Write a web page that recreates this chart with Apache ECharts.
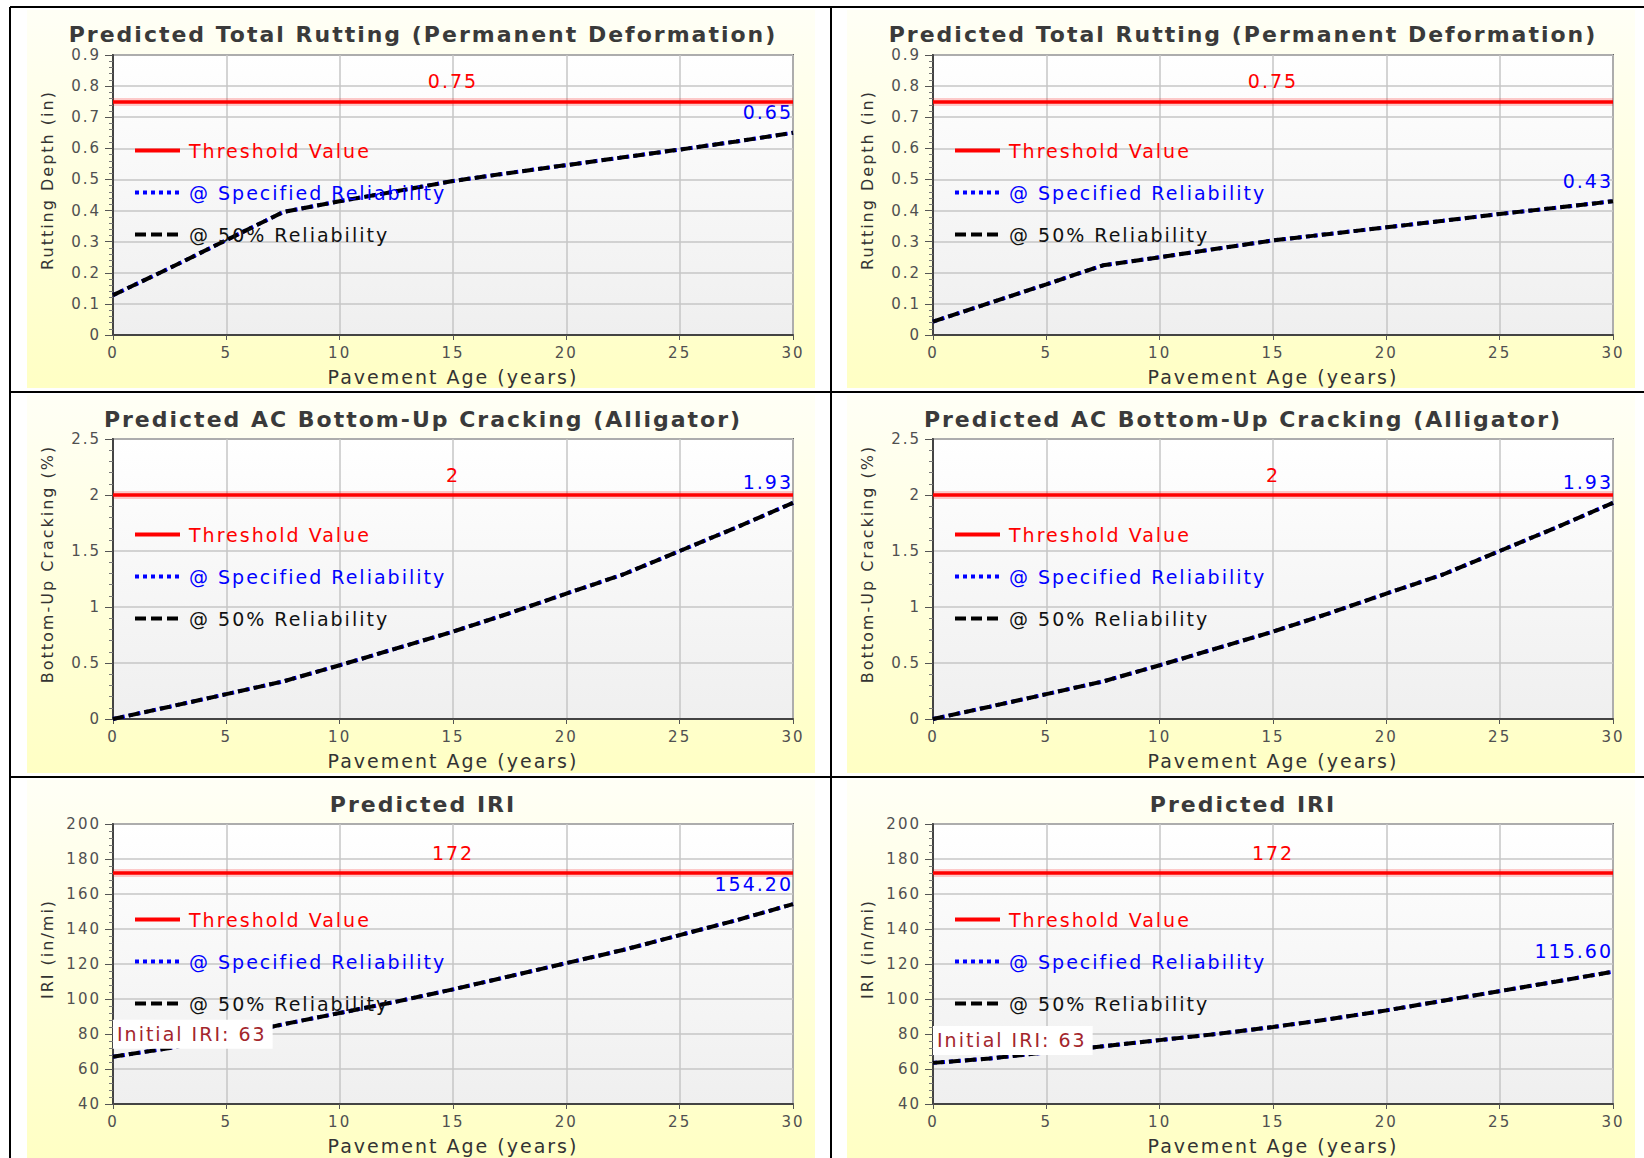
<!DOCTYPE html>
<html>
<head>
<meta charset="utf-8">
<title>Predicted distress over pavement life</title>
<script src="https://cdn.jsdelivr.net/npm/echarts@6/dist/echarts.min.js"></script>
<style>
  html, body { margin: 0; padding: 0; background: #ffffff; }
  #chart { width: 1644px; height: 1158px; }
  /* the report font is set wide; spread the glyphs a little */
  #chart text { letter-spacing: 2px; }
</style>
</head>
<body>
<div id="chart"></div>
<script>
// ---- data -------------------------------------------------------------
// Pavement age (years) at which the predictions are sampled
const AGE = [0, 2.5, 5, 7.5, 10, 12.5, 15, 17.5, 20, 22.5, 25, 27.5, 30];

// Total rutting (in), design A (left) and design B (right)
const RUT_THRESHOLD = 0.75;
const RUT_A_SPECIFIED = [0.128, 0.215, 0.305, 0.395, 0.430, 0.462, 0.495, 0.521, 0.546, 0.571, 0.596, 0.622, 0.65];
const RUT_A_MEAN      = [0.128, 0.215, 0.305, 0.395, 0.430, 0.462, 0.495, 0.521, 0.546, 0.571, 0.596, 0.622, 0.65];
const RUT_B_SPECIFIED = [0.043, 0.103, 0.163, 0.224, 0.250, 0.277, 0.304, 0.325, 0.346, 0.367, 0.389, 0.409, 0.43];
const RUT_B_MEAN      = [0.043, 0.103, 0.163, 0.224, 0.250, 0.277, 0.304, 0.325, 0.346, 0.367, 0.389, 0.409, 0.43];

// AC bottom-up (alligator) cracking (%)
const CRACK_THRESHOLD = 2;
const CRACK_A_SPECIFIED = [0, 0.11, 0.222, 0.335, 0.48, 0.63, 0.78, 0.945, 1.12, 1.29, 1.50, 1.71, 1.93];
const CRACK_A_MEAN      = [0, 0.11, 0.222, 0.335, 0.48, 0.63, 0.78, 0.945, 1.12, 1.29, 1.50, 1.71, 1.93];
const CRACK_B_SPECIFIED = [0, 0.11, 0.222, 0.335, 0.48, 0.63, 0.78, 0.945, 1.12, 1.29, 1.50, 1.71, 1.93];
const CRACK_B_MEAN      = [0, 0.11, 0.222, 0.335, 0.48, 0.63, 0.78, 0.945, 1.12, 1.29, 1.50, 1.71, 1.93];

// International roughness index (in/mi)
const IRI_THRESHOLD = 172;
const IRI_INITIAL = 63;
const IRI_A_SPECIFIED = [67, 72, 78.5, 85.5, 92, 98.5, 105.5, 113, 120.5, 128, 136.5, 145, 154.2];
const IRI_A_MEAN      = [67, 72, 78.5, 85.5, 92, 98.5, 105.5, 113, 120.5, 128, 136.5, 145, 154.2];
const IRI_B_SPECIFIED = [63.5, 66, 69.5, 73, 76.5, 80, 84, 88.5, 93.5, 99, 104.5, 110, 115.6];
const IRI_B_MEAN      = [63.5, 66, 69.5, 73, 76.5, 80, 84, 88.5, 93.5, 99, 104.5, 110, 115.6];

// Axis ranges: [min, max, step]
const AGE_AXIS   = [0, 30, 5];
const RUT_AXIS   = [0, 0.9, 0.1];
const CRACK_AXIS = [0, 2.5, 0.5];
const IRI_AXIS   = [40, 200, 20];

// Text
const TITLES = [
  'Predicted Total Rutting (Permanent Deformation)',
  'Predicted AC Bottom-Up Cracking (Alligator)',
  'Predicted IRI'
];
const Y_NAMES = ['Rutting Depth (in)', 'Bottom-Up Cracking (%)', 'IRI (in/mi)'];
const X_NAME = 'Pavement Age (years)';
const LEGEND_NAMES = ['Threshold Value', '@ Specified Reliability', '@ 50% Reliability'];

// ---- panels -------------------------------------------------------------
const panels = [
  { row: 0, col: 0, axis: RUT_AXIS,   thr: RUT_THRESHOLD,   spec: RUT_A_SPECIFIED,   mean: RUT_A_MEAN },
  { row: 0, col: 1, axis: RUT_AXIS,   thr: RUT_THRESHOLD,   spec: RUT_B_SPECIFIED,   mean: RUT_B_MEAN },
  { row: 1, col: 0, axis: CRACK_AXIS, thr: CRACK_THRESHOLD, spec: CRACK_A_SPECIFIED, mean: CRACK_A_MEAN },
  { row: 1, col: 1, axis: CRACK_AXIS, thr: CRACK_THRESHOLD, spec: CRACK_B_SPECIFIED, mean: CRACK_B_MEAN },
  { row: 2, col: 0, axis: IRI_AXIS,   thr: IRI_THRESHOLD,   spec: IRI_A_SPECIFIED,   mean: IRI_A_MEAN, initial: IRI_INITIAL },
  { row: 2, col: 1, axis: IRI_AXIS,   thr: IRI_THRESHOLD,   spec: IRI_B_SPECIFIED,   mean: IRI_B_MEAN, initial: IRI_INITIAL }
];

// ---- layout -------------------------------------------------------------
const PLOT_LEFT = [113, 933];
const PLOT_TOP = [55, 439, 824];
const PLOT_W = 680;
const PLOT_H = 280;
const CELL_LEFT = [27, 847];
const CELL_TOP = [10, 395, 780];
const CELL_W = 788;
const CELL_H = [378, 378, 378];
const TITLE_CX = [423, 1243];
const TITLE_CY = [35, 420, 805];

const FONT = 'DejaVu Sans, Verdana, sans-serif';
const RED = '#ff0000';
const BLUE = '#0000ff';

const plotFill = {
  type: 'linear', x: 0, y: 0, x2: 0, y2: 1,
  colorStops: [{ offset: 0, color: '#ffffff' }, { offset: 1, color: '#efefef' }]
};
const cellFill = {
  type: 'linear', x: 0, y: 0, x2: 0, y2: 1,
  colorStops: [{ offset: 0, color: '#fffff6' }, { offset: 1, color: '#ffffc4' }]
};

const grid = [], xAxis = [], yAxis = [], series = [], title = [], legend = [];

panels.forEach((p, i) => {
  const left = PLOT_LEFT[p.col];
  const top = PLOT_TOP[p.row];

  grid.push({
    left: left, top: top, width: PLOT_W, height: PLOT_H,
    show: true, backgroundColor: plotFill, borderColor: '#666', borderWidth: 2
  });

  xAxis.push({
    type: 'value', gridIndex: i,
    min: AGE_AXIS[0], max: AGE_AXIS[1], interval: AGE_AXIS[2],
    name: X_NAME, nameLocation: 'middle', nameGap: 32,
    nameTextStyle: { fontSize: 19, color: '#333', fontFamily: FONT },
    axisLine: { show: true, onZero: false, lineStyle: { color: '#444', width: 2 } },
    axisTick: { show: true, length: 5, lineStyle: { color: '#555' } },
    axisLabel: { margin: 10, fontSize: 15, color: '#505050', fontFamily: FONT },
    splitLine: { show: true, lineStyle: { color: '#c6c6c6', width: 1.5 } }
  });

  yAxis.push({
    type: 'value', gridIndex: i,
    min: p.axis[0], max: p.axis[1], interval: p.axis[2],
    name: Y_NAMES[p.row], nameLocation: 'middle', nameGap: 58,
    nameTextStyle: { fontSize: 16, color: '#333', fontFamily: FONT, padding: [0, 0, 0, 30] },
    axisLine: { show: true, onZero: false, lineStyle: { color: '#444', width: 2 } },
    axisTick: { show: true, length: 8, lineStyle: { color: '#555' } },
    minorTick: { show: true, splitNumber: 5, length: 4, lineStyle: { color: '#777' } },
    axisLabel: { margin: 12, fontSize: 15, color: '#505050', fontFamily: FONT },
    splitLine: { show: true, lineStyle: { color: '#c6c6c6', width: 1.5 } }
  });

  title.push({
    text: TITLES[p.row],
    left: TITLE_CX[p.col], top: TITLE_CY[p.row] - 12, textAlign: 'center', padding: 0,
    textStyle: { fontSize: 22, fontWeight: 'bold', color: '#3a3a3a', fontFamily: FONT }
  });

  legend.push({
    orient: 'vertical', left: left + 20, top: top + 86, padding: 0,
    itemWidth: 45, itemHeight: 14, itemGap: 23,
    selectedMode: false,
    itemStyle: { opacity: 0 },
    lineStyle: { width: 'inherit' },
    textStyle: { fontSize: 19, fontFamily: FONT, padding: [0, 0, 0, 4] },
    data: [
      { name: LEGEND_NAMES[0], textStyle: { color: RED } },
      { name: LEGEND_NAMES[1], textStyle: { color: BLUE } },
      { name: LEGEND_NAMES[2], textStyle: { color: '#111' } }
    ]
  });

  const last = AGE.length - 1;

  // threshold level across the whole age range (soft halo under a solid core)
  series.push({
    type: 'line', name: LEGEND_NAMES[0], xAxisIndex: i, yAxisIndex: i,
    data: [], symbol: 'none',
    lineStyle: { color: RED, width: 4 }, itemStyle: { color: RED },
    markLine: {
      silent: true, symbol: 'none', animation: false,
      data: [
        { yAxis: p.thr, lineStyle: { width: 8, color: 'rgba(255,0,0,0.2)' }, label: { show: false } },
        { yAxis: p.thr }
      ],
      lineStyle: { color: RED, width: 3.5, type: 'solid', opacity: 1 },
      label: {
        show: true, position: 'insideMiddleTop', distance: 11,
        color: RED, fontSize: 19, fontFamily: FONT,
        formatter: () => String(p.thr)
      }
    }
  });

  // prediction at the specified reliability, labelled with its final value
  series.push({
    type: 'line', name: LEGEND_NAMES[1], xAxisIndex: i, yAxisIndex: i,
    symbol: 'none',
    lineStyle: { color: BLUE, width: 4, type: [4, 4] }, itemStyle: { color: BLUE },
    data: AGE.map((a, k) => k === last ? {
      value: [a, p.spec[k]], symbol: 'circle', symbolSize: 0,
      label: {
        show: true, position: 'top', distance: 11, align: 'right',
        color: BLUE, fontSize: 19, fontFamily: FONT,
        formatter: (q) => q.value[1].toFixed(2)
      }
    } : [a, p.spec[k]])
  });

  // prediction at 50% reliability; roughness also notes its initial value
  series.push({
    type: 'line', name: LEGEND_NAMES[2], xAxisIndex: i, yAxisIndex: i,
    symbol: 'none', z: 3,
    lineStyle: { color: '#000', width: 4, type: [11, 5] }, itemStyle: { color: '#000' },
    data: AGE.map((a, k) => (k === 0 && p.initial != null) ? {
      value: [a, p.mean[k]], symbol: 'circle', symbolSize: 0,
      label: {
        show: true, position: 'top', distance: 8, align: 'left',
        color: '#a3262c', fontSize: 19, fontFamily: FONT,
        backgroundColor: '#ffffff', padding: [5, 36, 5, 4],
        formatter: () => 'Initial IRI: ' + p.initial
      }
    } : [a, p.mean[k]])
  });
});

// cell backgrounds and the black frame around the six panels
const graphic = [];
for (let r = 0; r < 3; r++) {
  for (let c = 0; c < 2; c++) {
    graphic.push({
      type: 'rect', z: -10, silent: true,
      shape: { x: CELL_LEFT[c], y: CELL_TOP[r], width: CELL_W, height: CELL_H[r] },
      style: { fill: cellFill }
    });
  }
}
const frame = [
  [10, 7, 10, 1158], [831, 7, 831, 1158],
  [10, 7, 1644, 7], [10, 392, 1644, 392], [10, 777, 1644, 777]
];
frame.forEach(f => graphic.push({
  type: 'line', z: 100, silent: true,
  shape: { x1: f[0], y1: f[1], x2: f[2], y2: f[3] },
  style: { stroke: '#000', lineWidth: 2 }
}));

const chart = echarts.init(document.getElementById('chart'), null, { renderer: 'svg' });
chart.setOption({
  animation: false,
  textStyle: { fontFamily: FONT },
  title, legend, grid, xAxis, yAxis, series, graphic
});
</script>
</body>
</html>
